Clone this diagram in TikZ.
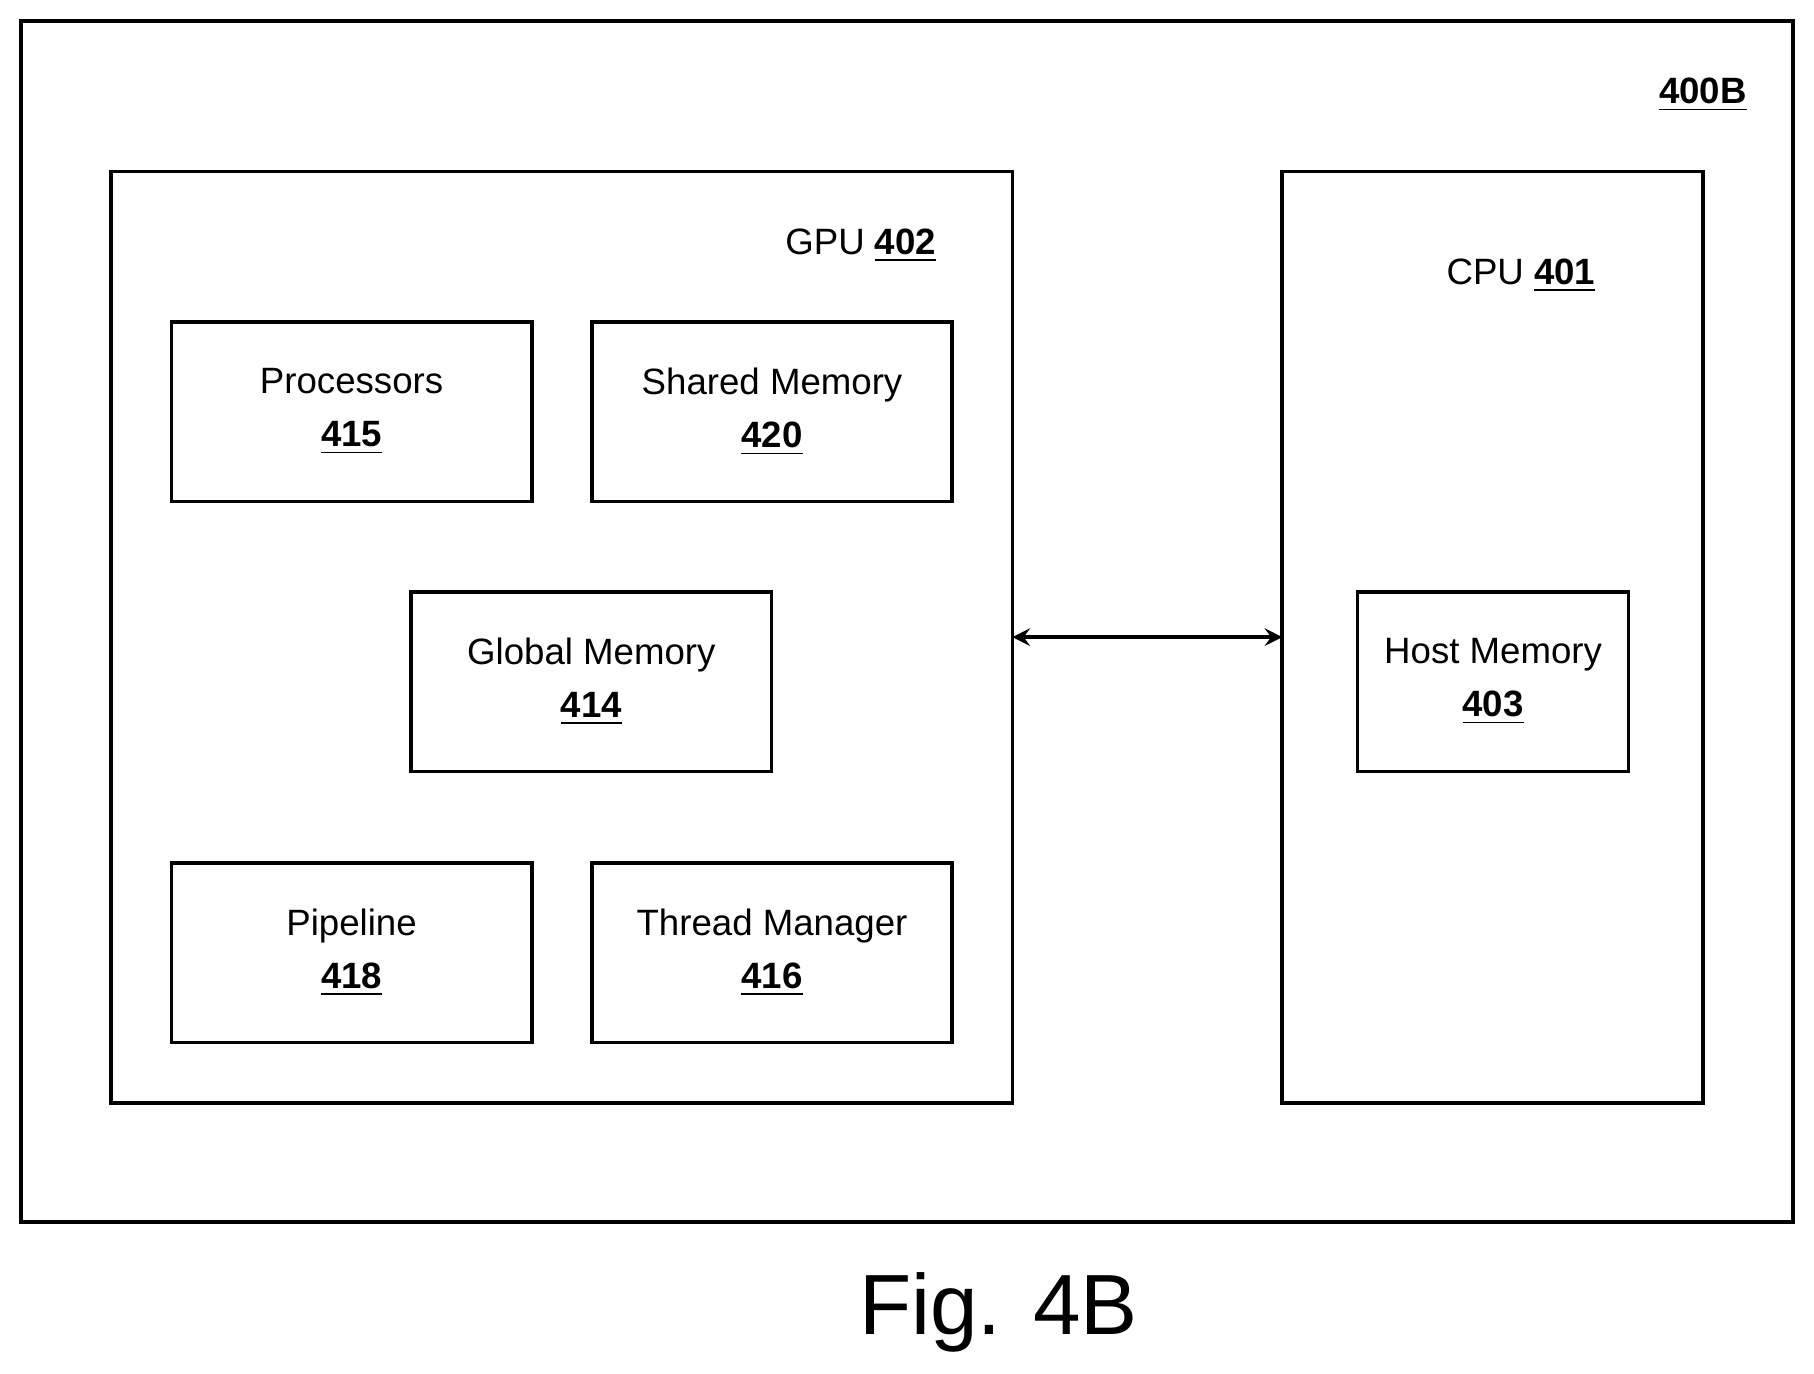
\documentclass[tikz,border=0pt]{standalone}
\usepackage{fontspec}
\setmainfont{Liberation Sans}
\usetikzlibrary{positioning}
\tikzset{
  block/.style={draw, line width=0.9pt, minimum width=3.11cm, minimum height=1.55cm, align=center, font=\fontsize{9}{13}\selectfont},
  frame/.style={draw, line width=0.9pt},
  tag/.style={font=\fontsize{9}{11}\selectfont}
}
\newcommand{\refnum}[1]{\underline{\textbf{#1}}}
\begin{document}
\begin{tikzpicture}[x=1cm, y=1cm, >=stealth]
\useasboundingbox (0,0) rectangle (15.66,-11.86);

% frames
\draw [frame] (0.18,-0.18) rectangle (15.48,-10.55);
\node [frame, minimum width=7.78cm, minimum height=8.04cm, inner sep=0] (gpu) at (4.85,-5.50) {};
\node [frame, minimum width=3.63cm, minimum height=8.04cm, inner sep=0] (cpu) at (12.885,-5.50) {};

\node [tag] (sys-label) at (14.70,-0.82) {\refnum{400B}};
\node [tag] (gpu-label) at (7.43,-2.12) {GPU \refnum{402}};
\node [tag] (cpu-label) at (13.13,-2.38) {CPU \refnum{401}};

% gpu blocks
\node [block] (proc) at (3.035,-3.555) {Processors\\\refnum{415}};
\node [block] (shared) at (6.665,-3.555) {Shared Memory\\\refnum{420}};
\node [block] (global) at (5.105,-5.885) {Global Memory\\\refnum{414}};
\node [block] (pipe) at (3.035,-8.225) {Pipeline\\\refnum{418}};
\node [block] (thread) at (6.665,-8.225) {Thread Manager\\\refnum{416}};

% cpu block
\node [block, minimum width=2.34cm] (host) at (12.89,-5.885) {Host Memory\\\refnum{403}};

\coordinate (gpu-port) at (8.74,-5.50);
\coordinate (cpu-port) at (11.07,-5.50);
\draw [<->, line width=0.9pt] (gpu-port) -- (cpu-port);

\node [font=\fontsize{21}{25}\selectfont] (fig) at (8.62,-11.33) {Fig. 4B};

\end{tikzpicture}
\end{document}
